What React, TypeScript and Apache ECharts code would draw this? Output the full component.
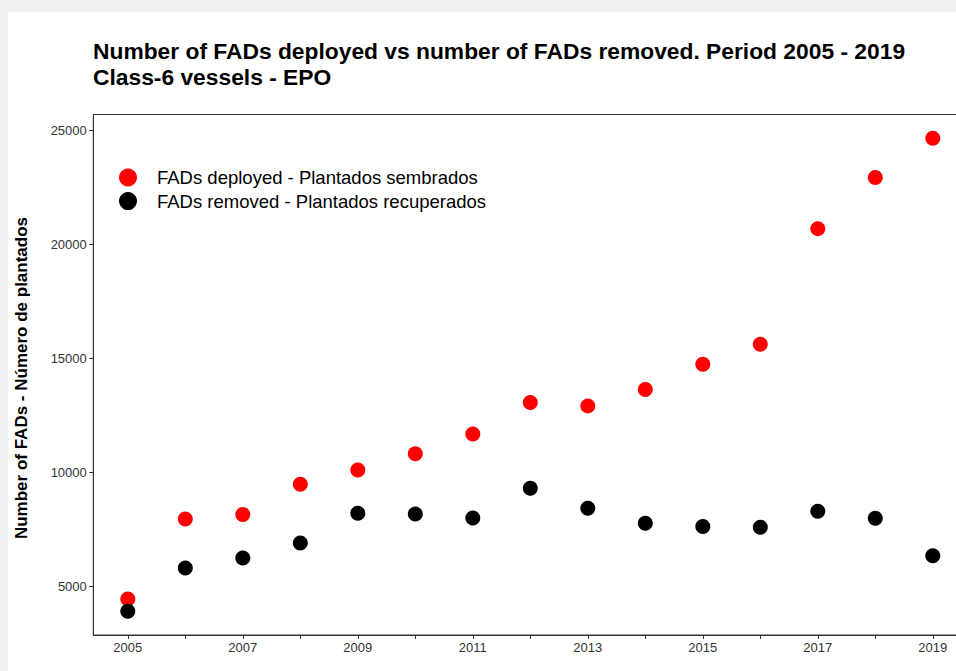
import React, { useEffect, useRef } from "react";
import * as echarts from "echarts";

const years = [2005, 2006, 2007, 2008, 2009, 2010, 2011, 2012, 2013, 2014, 2015, 2016, 2017, 2018, 2019];
const deployed = [4449, 7960, 8148, 9478, 10103, 10816, 11677, 13063, 12914, 13631, 14738, 15612, 20684, 22928, 24650];
const removed = [3907, 5805, 6242, 6898, 8209, 8179, 8004, 9303, 8428, 7772, 7624, 7597, 8297, 7991, 6342];
const yTicks = [5000, 10000, 15000, 20000, 25000];
const xLabels = [2005, 2007, 2009, 2011, 2013, 2015, 2017, 2019];

const titleText = "Number of FADs deployed vs number of FADs removed. Period 2005 - 2019\nClass-6 vessels - EPO";
const yName = "Number of FADs - Número de plantados";
const seriesNames = ["FADs deployed - Plantados sembrados", "FADs removed - Plantados recuperados"];

const FONT = "'Liberation Sans', Arial, sans-serif";

export default function App() {
  const ref = useRef<HTMLDivElement>(null);
  useEffect(() => {
    if (!ref.current) return;
    const chart = echarts.init(ref.current, null, { renderer: "svg" });
    chart.setOption({
      animation: false,
      backgroundColor: "#ffffff",
      textStyle: { fontFamily: FONT },
      title: {
        text: titleText,
        left: 85,
        top: 26,
        padding: 0,
        textStyle: { fontFamily: FONT, fontSize: 22.8, fontWeight: "bold", color: "#000", lineHeight: 26 },
      },
      legend: {
        left: 111,
        top: 156,
        orient: "vertical",
        padding: 0,
        itemWidth: 18,
        itemHeight: 18,
        itemGap: 4.6,
        icon: "circle",
        data: seriesNames,
        textStyle: { fontFamily: FONT, fontSize: 18.5, color: "#000", padding: [0, 0, 0, 15] },
      },
      grid: {
        left: 85.3,
        top: 102.5,
        right: 40.7,
        bottom: 36,
        show: true,
        borderColor: "#333",
        borderWidth: 1,
        containLabel: false,
      },
      xAxis: {
        type: "value",
        min: 2004.4,
        max: 2019.6,
        splitLine: { show: false },
        axisLine: { show: true, lineStyle: { color: "#333", width: 1 } },
        axisTick: { show: true, length: 4, lineStyle: { color: "#333" }, customValues: years },
        axisLabel: {
          customValues: xLabels,
          color: "#333",
          fontSize: 13,
          fontFamily: FONT,
          margin: 6,
          formatter: (v: number) => String(Math.round(v)),
        },
      },
      yAxis: {
        type: "value",
        min: 2870,
        max: 25687,
        splitLine: { show: false },
        axisLine: { show: true, lineStyle: { color: "#333", width: 1 } },
        axisTick: { show: true, length: 4, lineStyle: { color: "#333" }, customValues: yTicks },
        axisLabel: {
          customValues: yTicks,
          color: "#333",
          fontSize: 13,
          fontFamily: FONT,
          margin: 6.5,
          formatter: (v: number) => String(Math.round(v)),
        },
      },
      graphic: [
        {
          type: "text",
          x: 13,
          y: 366,
          rotation: Math.PI / 2,
          style: {
            text: yName,
            fontFamily: FONT,
            fontSize: 17,
            fontWeight: "bold",
            fill: "#000",
            align: "center",
            verticalAlign: "middle",
          },
        },
      ],
      series: [
        {
          name: seriesNames[0],
          type: "scatter",
          symbol: "circle",
          symbolSize: 15,
          itemStyle: { color: "#ff0000", opacity: 1 },
          data: years.map((y, i) => [y, deployed[i]]),
        },
        {
          name: seriesNames[1],
          type: "scatter",
          symbol: "circle",
          symbolSize: 15,
          itemStyle: { color: "#000000", opacity: 1 },
          data: years.map((y, i) => [y, removed[i]]),
        },
      ],
    });
    return () => chart.dispose();
  }, []);

  return (
    <div style={{ position: "fixed", left: 0, top: 0, width: 956, height: 671, background: "#f0f0f0", overflow: "hidden" }}>
      <div ref={ref} style={{ position: "absolute", left: 8, top: 12, width: 1000, height: 659 }} />
    </div>
  );
}
